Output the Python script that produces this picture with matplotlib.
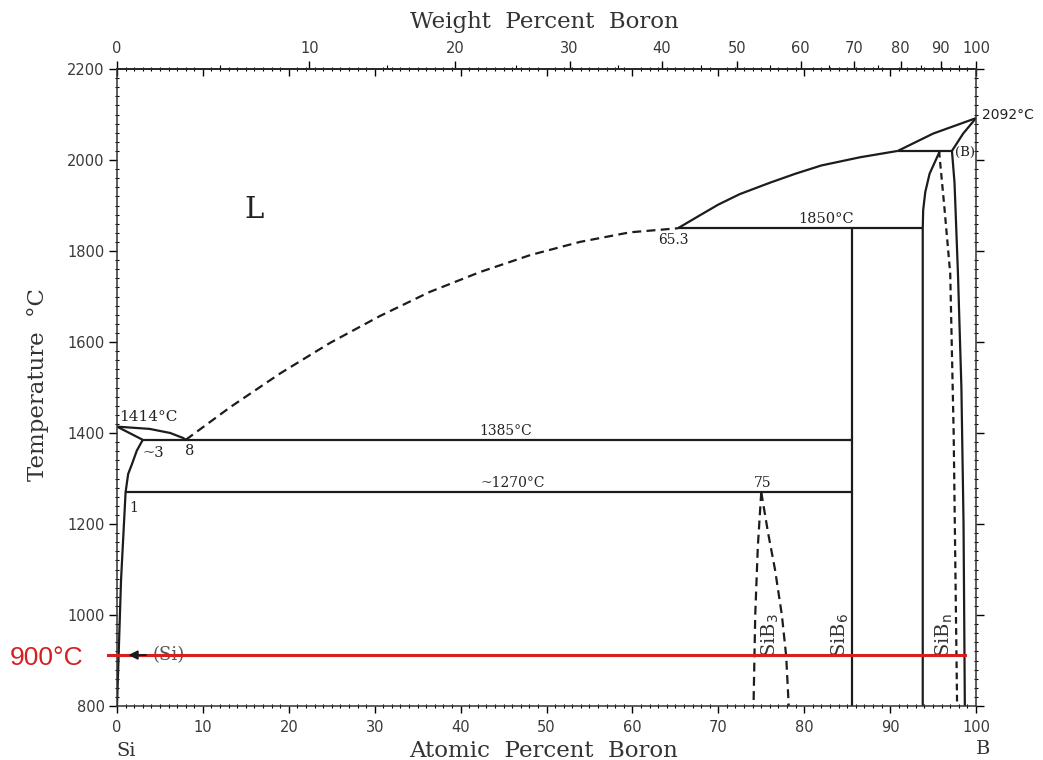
import numpy as np
import matplotlib
matplotlib.use("Agg")
import matplotlib.pyplot as plt
from matplotlib.ticker import MultipleLocator, FixedLocator, NullFormatter

# ---------------- data ----------------
M_B = 10.81
M_SI = 28.0855

# Si-rich liquidus (solid) 1414 -> eutectic 8 at% / 1385
liq_si_x = [0.0, 3.8, 6.2, 7.7, 8.0]
liq_si_t = [1414, 1409, 1400, 1389, 1385]
# Si solidus
sol_si_x = [0.0, 3.0]
sol_si_t = [1414, 1385]
# (Si) solvus
solv_si_x = [3.0, 2.3, 1.75, 1.3, 1.0, 0.47, 0.0]
solv_si_t = [1385, 1361, 1332, 1310, 1270, 1077, 800]
# dashed liquidus 8 -> 65.3
liq_d_x = [8.0, 13.2, 19.0, 24.8, 30.6, 36.4, 42.3, 48.1, 53.9, 59.7, 65.3]
liq_d_t = [1385, 1457, 1531, 1598, 1657, 1710, 1754, 1791, 1820, 1841, 1850]
# B-rich liquidus 65.3 -> 90.9
liq_b_x = [65.3, 68.0, 70.0, 72.5, 76.0, 79.0, 82.0, 86.5, 90.9]
liq_b_t = [1850, 1880, 1902, 1925, 1950, 1970, 1988, 2006, 2020]
# liquidus 90.9 -> B melting
liq_top_x = [90.9, 95.0, 100.0]
liq_top_t = [2020, 2058, 2092]
# (B) solidus
sol_b_x = [97.2, 98.5, 100.0]
sol_b_t = [2020, 2058, 2092]
# SiBn left boundary
sibn_l_x = [95.8, 95.2, 94.6, 94.1, 93.85, 93.8, 93.8]
sibn_l_t = [2020, 1995, 1970, 1930, 1890, 1850, 800]
# SiBn right boundary (dashed)
sibn_r_x = [95.7, 96.3, 97.0, 97.4, 97.8]
sibn_r_t = [2020, 1900, 1750, 1400, 800]
# (B) solvus
solv_b_x = [97.2, 97.5, 97.9, 98.3, 98.55, 98.7]
solv_b_t = [2020, 1950, 1750, 1500, 1200, 800]
# SiB3 region (dashed)
sib3_l_x = [75.0, 74.6, 74.3, 74.1]
sib3_l_t = [1270, 1150, 1000, 800]
sib3_r_x = [75.0, 75.8, 76.6, 77.4, 77.9, 78.2]
sib3_r_t = [1270, 1180, 1100, 1000, 910, 800]
# SiB6 line compound
x_sib6 = 85.6
# invariant lines: (x_start, x_end, T)
iso_1385 = (3.0, 85.6, 1385)
iso_1270 = (1.0, 85.6, 1270)
iso_1850 = (65.3, 93.8, 1850)
iso_2020 = (90.9, 97.2, 2020)
# highlighted temperature line
t_red = 912
red_x = (-1.0, 98.7)

wt_major = [0, 10, 20, 30, 40, 50, 60, 70, 80, 90, 100]
wt_minor = [5, 15, 25, 35, 45, 55, 65, 75, 85, 95]


def at_to_wt(a):
    a = np.asarray(a, dtype=float)
    with np.errstate(divide="ignore", invalid="ignore"):
        return 100.0 * a * M_B / (a * M_B + (100.0 - a) * M_SI)


def wt_to_at(w):
    w = np.asarray(w, dtype=float)
    with np.errstate(divide="ignore", invalid="ignore"):
        return 100.0 * (w / M_B) / ((w / M_B) + (100.0 - w) / M_SI)


# ---------------- figure ----------------
fig = plt.figure(figsize=(10.43, 7.60), dpi=100)
fig.patch.set_facecolor("white")
ax = fig.add_axes([117 / 1043, 54 / 760, 859 / 1043, 637 / 760])
ax.set_xlim(0, 100)
ax.set_ylim(800, 2200)

LC = "#1c1c1c"
LW = 1.6
DASH = (0, (4.0, 2.4))
serif = "DejaVu Serif"
tickc = "#3a3a3a"

for s in ax.spines.values():
    s.set_linewidth(1.1)
    s.set_color("#333333")

# ticks
ax.xaxis.set_major_locator(MultipleLocator(10))
ax.xaxis.set_minor_locator(MultipleLocator(1))
ax.yaxis.set_major_locator(MultipleLocator(200))
ax.yaxis.set_minor_locator(MultipleLocator(20))
ax.tick_params(axis="x", which="major", direction="out", length=5, width=1,
               bottom=True, top=False, labelsize=10.5, labelcolor=tickc, pad=5)
ax.tick_params(axis="x", which="minor", direction="inout", length=3, width=0.8,
               bottom=True, top=False)
ax.tick_params(axis="y", which="major", direction="out", length=6, width=1,
               left=True, right=True, labelsize=10.5, labelcolor=tickc, pad=3)
ax.tick_params(axis="y", which="minor", direction="inout", length=3, width=0.8,
               left=True, right=True)

sec_at = ax.secondary_xaxis("top")
sec_at.xaxis.set_major_locator(MultipleLocator(10))
sec_at.xaxis.set_minor_locator(MultipleLocator(1))
sec_at.xaxis.set_major_formatter(NullFormatter())
sec_at.tick_params(which="major", direction="in", length=5, width=1)
sec_at.tick_params(which="minor", direction="inout", length=3, width=0.8)
sec_at.spines["top"].set_linewidth(1.1)

sec_wt = ax.secondary_xaxis("top", functions=(at_to_wt, wt_to_at))
sec_wt.xaxis.set_major_locator(FixedLocator(wt_major))
sec_wt.xaxis.set_minor_locator(FixedLocator(wt_minor))
sec_wt.tick_params(which="major", direction="out", length=6, width=1,
                   labelsize=10.5, labelcolor=tickc, pad=3)
sec_wt.tick_params(which="minor", direction="out", length=3, width=0.8)
sec_wt.spines["top"].set_linewidth(1.1)

# axis titles
ax.set_xlabel("Atomic  Percent  Boron", family=serif, fontsize=16.5, color="#333333", va="center")
ax.xaxis.set_label_coords(0.497, -0.0706)
ax.set_ylabel("Temperature  \u00b0C", family=serif, fontsize=16.5, color="#333333", va="center")
ax.yaxis.set_label_coords(-0.092, 0.504)
ax.text(0.497, (706 - 22) / 637, "Weight  Percent  Boron", transform=ax.transAxes,
        family=serif, fontsize=16.5, color="#333333", ha="center", va="center")

# ---------------- phase boundaries ----------------
kw = dict(color=LC, lw=LW, solid_capstyle="butt", solid_joinstyle="round")
ax.plot(liq_si_x, liq_si_t, **kw)
ax.plot(sol_si_x, sol_si_t, **kw)
ax.plot(solv_si_x, solv_si_t, **kw)
ax.plot(liq_d_x, liq_d_t, color=LC, lw=LW, linestyle=DASH)
ax.plot(liq_b_x, liq_b_t, **kw)
ax.plot(liq_top_x, liq_top_t, **kw)
ax.plot(sol_b_x, sol_b_t, **kw)
ax.plot(sibn_l_x, sibn_l_t, **kw)
ax.plot(sibn_r_x, sibn_r_t, color=LC, lw=LW, linestyle=(0, (3.0, 2.0)))
ax.plot(solv_b_x, solv_b_t, **kw)
ax.plot(sib3_l_x, sib3_l_t, color=LC, lw=LW, linestyle=DASH)
ax.plot(sib3_r_x, sib3_r_t, color=LC, lw=LW, linestyle=DASH)
ax.plot([x_sib6, x_sib6], [800, iso_1850[2]], **kw)
for x0, x1, t in (iso_1385, iso_1270, iso_1850, iso_2020):
    ax.plot([x0, x1], [t, t], **kw)

# ---------------- labels ----------------
tc = "#222222"
ax.text(16.0, 1890, "L", family=serif, fontsize=21, color=tc, ha="center", va="center")
ax.text(0.3, 1436, "1414\u00b0C", family=serif, fontsize=11, color=tc, ha="left", va="center")
ax.text(3.0, 1357, "~3", family=serif, fontsize=10.5, color=tc, ha="left", va="center")
ax.text(8.5, 1360, "8", family=serif, fontsize=10.5, color=tc, ha="center", va="center")
ax.text(1.9, 1235, "1", family=serif, fontsize=10, color=tc, ha="center", va="center")
ax.text(45.2, 1389, "1385\u00b0C", family=serif, fontsize=10, color=tc, ha="center", va="bottom")
ax.text(46.1, 1274, "~1270\u00b0C", family=serif, fontsize=10, color=tc, ha="center", va="bottom")
ax.text(75.2, 1274, "75", family=serif, fontsize=10, color=tc, ha="center", va="bottom")
ax.text(64.8, 1840, "65.3", family=serif, fontsize=10, color=tc, ha="center", va="top")
ax.text(82.5, 1854, "1850\u00b0C", family=serif, fontsize=10.5, color=tc, ha="center", va="bottom")
ax.text(100.7, 2098, "2092\u00b0C", family="DejaVu Sans", fontsize=10, color=tc, ha="left", va="center")
ax.text(97.5, 2016, "(B)", family=serif, fontsize=9.5, color=tc, ha="left", va="center")
ax.text(4.1, t_red, "(Si)", family=serif, fontsize=13, color="#555555", ha="left", va="center")
ax.annotate("", xy=(1.0, t_red), xytext=(3.7, t_red), zorder=12,
            arrowprops=dict(arrowstyle="-|>", color=LC, lw=1.4, mutation_scale=13))
ax.text(76.1, 955, "SiB$_{\\mathrm{3}}$", family=serif, fontsize=14, color="#333333",
        rotation=90, ha="center", va="center")
ax.text(84.2, 955, "SiB$_{\\mathrm{6}}$", family=serif, fontsize=14, color="#333333",
        rotation=90, ha="center", va="center")
ax.text(96.3, 955, "SiB$_{\\mathrm{n}}$", family=serif, fontsize=14, color="#333333",
        rotation=90, ha="center", va="center")

xt = ax.get_xaxis_transform()
ax.text(1.1, -0.071, "Si", transform=xt, family=serif, fontsize=14, color="#333333",
        ha="center", va="center")
ax.text(100.8, -0.068, "B", transform=xt, family=serif, fontsize=14, color="#333333",
        ha="center", va="center")

# highlighted 900 C line
ax.plot(list(red_x), [t_red, t_red], color="#d42020", lw=2.2, zorder=10, clip_on=False)
yt = ax.get_yaxis_transform()
ax.text(-0.1246, t_red - 6, "900\u00b0C", transform=yt, family="Liberation Sans",
        fontsize=19, color="#d42020", ha="left", va="center")

fig.savefig("out.png", dpi=100, facecolor="white")
